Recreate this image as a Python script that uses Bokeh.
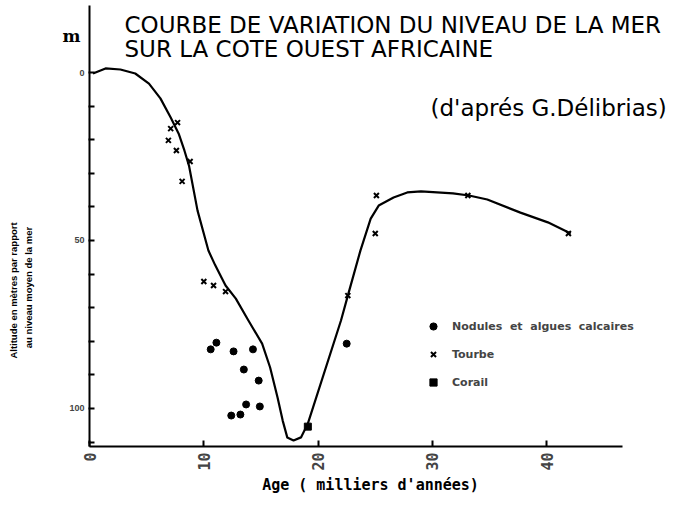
from math import pi
from bokeh.plotting import figure
from bokeh.models import Range1d, FixedTicker, Label, Legend, LegendItem
from bokeh.embed import file_html
from bokeh.resources import INLINE

# ---- data (age in thousands of years, altitude in metres below mean sea level) ----
curve_age = [0.3, 1.4, 2.7, 4.0, 5.2, 6.2, 7.1, 7.8, 8.3, 8.7, 9.45, 10.4, 11.0, 11.9,
             12.8, 13.9, 15.1, 15.8, 16.45, 16.9, 17.3, 17.85, 18.5, 19.1, 22.0, 22.6,
             23.7, 24.6, 25.3, 26.6, 27.8, 29.0, 31.8, 33.2, 34.8, 37.7, 40.1, 42.1]
curve_alt = [0.3, -1.2, -0.9, 0.3, 3.3, 7.7, 13.4, 18.2, 23.2, 27.7, 41.1, 53.0, 57.4, 63.4,
             67.3, 73.8, 80.7, 87.8, 96.7, 103.6, 108.6, 109.5, 108.6, 104.5, 73.8, 66.4,
             53.0, 43.5, 39.6, 37.2, 35.7, 35.4, 36.0, 36.6, 37.8, 41.7, 44.6, 47.9]

tourbe_age = [7.7, 7.1, 6.9, 7.6, 8.8, 8.1, 10.0, 10.85, 11.9, 22.6, 25.1, 25.0, 33.1, 41.9]
tourbe_alt = [14.9, 16.7, 20.2, 23.2, 26.5, 32.4, 62.2, 63.4, 65.2, 66.4, 36.6, 47.9, 36.6, 47.9]

nodules_age = [11.1, 10.6, 12.6, 14.3, 13.5, 14.8, 13.7, 14.9, 12.4, 13.2, 22.5]
nodules_alt = [80.4, 82.4, 83.0, 82.4, 88.4, 91.7, 98.8, 99.4, 102.1, 101.8, 80.7]

corail_age = [19.1]
corail_alt = [105.4]

x_ticks = [0, 10, 20, 30, 40]
y_ticks = [0, 10, 20, 30, 40, 50, 60, 70, 80, 90, 100, 110]
y_tick_labels = {0: "0", 50: "50", 100: "100"}
x_axis_extent = (0, 46.63)
y_axis_extent = (-19.94, 111.3)

# ---- figure (frame covers the whole canvas; axes are placed inside it) ----
p = figure(width=678, height=497, output_backend="svg", toolbar_location=None,
           x_range=Range1d(-7.79, 51.53), y_range=Range1d(126.49, -21.43),
           min_border_left=0, min_border_right=0, min_border_top=0, min_border_bottom=0)
p.outline_line_color = None
p.xgrid.visible = False
p.ygrid.visible = False
p.background_fill_color = "white"

# x axis
xa = p.xaxis[0]
xa.fixed_location = y_axis_extent[1]
xa.bounds = x_axis_extent
xa.ticker = FixedTicker(ticks=x_ticks)
xa.minor_tick_line_color = None
xa.major_tick_in = 6
xa.major_tick_out = 0
xa.major_tick_line_width = 2
xa.axis_line_width = 2
xa.major_label_orientation = pi / 2
xa.major_label_text_font = "DejaVu Sans Mono"
xa.major_label_text_font_size = "15px"
xa.major_label_text_font_style = "bold"
xa.major_label_standoff = 6

# y axis
ya = p.yaxis[0]
ya.fixed_location = x_axis_extent[0]
ya.bounds = y_axis_extent
ya.ticker = FixedTicker(ticks=y_ticks)
ya.major_label_overrides = {t: y_tick_labels.get(t, "") for t in y_ticks}
ya.minor_tick_line_color = None
ya.major_tick_in = 5
ya.major_tick_out = 1
ya.major_tick_line_width = 2
ya.axis_line_width = 2
ya.major_label_text_font = "Liberation Sans"
ya.major_label_text_font_size = "9px"
ya.major_label_text_font_style = "bold"
ya.major_label_standoff = 4

# ---- data marks ----
p.line(curve_age, curve_alt, line_color="black", line_width=2.2, line_join="round")
r_tourbe = p.scatter(tourbe_age, tourbe_alt, marker="x", size=7, line_color="black", line_width=2)
r_nod = p.scatter(nodules_age, nodules_alt, marker="circle", size=7,
                  fill_color="black", line_color="black")
r_cor = p.scatter(corail_age, corail_alt, marker="square", size=7,
                  fill_color="black", line_color="black")

legend = Legend(items=[
    LegendItem(label="Nodules  et  algues  calcaires", renderers=[r_nod]),
    LegendItem(label="Tourbe", renderers=[r_tourbe]),
    LegendItem(label="Corail", renderers=[r_cor]),
], location=(424, 106))
legend.border_line_color = None
legend.background_fill_alpha = 0
legend.padding = 0
legend.margin = 0
legend.spacing = 10
legend.glyph_width = 18
legend.glyph_height = 18
legend.label_height = 18
legend.label_standoff = 10
legend.label_text_font = "DejaVu Sans"
legend.label_text_font_size = "11px"
legend.label_text_font_style = "bold"
p.add_layout(legend, "center")

# ---- texts ----
def add_label(text, x, y, size, font="DejaVu Sans", style="normal", angle=0,
              align="left", baseline="alphabetic"):
    p.add_layout(Label(x=x, y=y, x_units="screen", y_units="screen", text=text,
                       text_font=font, text_font_size=size, text_font_style=style,
                       angle=angle, text_align=align, text_baseline=baseline,
                       text_color="black"))

add_label("COURBE DE VARIATION DU NIVEAU DE LA MER", 124, 473, "23px")
add_label("SUR LA COTE OUEST AFRICAINE", 124, 449, "23px")
add_label("(d'aprés G.Délibrias)", 430, 390, "23px")
add_label("m", 62, 462, "17px", font="DejaVu Serif", style="bold")
add_label("Altitude en mètres par rapport", 13, 207, "9.5px", font="Liberation Sans",
          style="bold", angle=pi / 2, align="center", baseline="middle")
add_label("au niveau moyen de la mer", 28, 210, "9.5px", font="Liberation Sans",
          style="bold", angle=pi / 2, align="center", baseline="middle")
add_label("Age ( milliers d'années)", 370, 13, "15px", font="DejaVu Sans Mono",
          style="bold", align="center", baseline="middle")

open("out.html", "w").write(file_html(p, INLINE))
